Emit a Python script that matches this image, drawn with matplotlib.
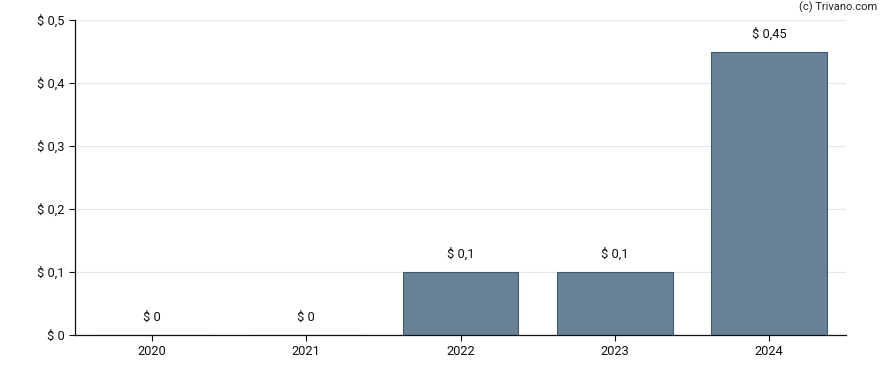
import matplotlib.pyplot as plt

# dados do gráfico
anos = ['2020', '2021', '2022', '2023', '2024']
valores = [0, 0, 0.1, 0.1, 0.45]
rotulos = ['$ 0', '$ 0', '$ 0,1', '$ 0,1', '$ 0,45']
ticks_y = [0, 0.1, 0.2, 0.3, 0.4, 0.5]
ticks_y_txt = ['$ 0', '$ 0,1', '$ 0,2', '$ 0,3', '$ 0,4', '$ 0,5']

plt.rcParams['font.family'] = ['Roboto', 'DejaVu Sans']

fig = plt.figure(figsize=(8.88, 3.70), dpi=100)
ax = fig.add_axes([75 / 888, 35 / 370, 771 / 888, 315 / 370])

pos = range(len(anos))
ax.bar(pos, valores, width=0.75, color='#668294', edgecolor='#3f5b73', linewidth=0.8, zorder=2)

# rótulos acima das barras
for x, v, t in zip(pos, valores, rotulos):
    ax.annotate(t, (x, v), xytext=(0, 8), textcoords='offset points',
                ha='center', va='bottom', fontsize=9.3, color='#111111')

ax.set_xlim(-0.5, 4.5)
ax.set_ylim(0, 0.5)
ax.set_xticks(list(pos))
ax.set_xticklabels(anos)
ax.set_yticks(ticks_y)
ax.set_yticklabels(ticks_y_txt)
ax.tick_params(labelsize=9.3, colors='#111111', length=4, width=0.8)

ax.grid(axis='y', color='#e6e6e6', linewidth=0.8, zorder=0)
for s in ['top', 'right']:
    ax.spines[s].set_visible(False)
for s in ['left', 'bottom']:
    ax.spines[s].set_color('#111111')
    ax.spines[s].set_linewidth(0.9)

fig.text(877 / 888, 1 - 7 / 370, '(c) Trivano.com', ha='right', va='center', fontsize=8, color='#222222')

fig.savefig('out.png', dpi=100)
